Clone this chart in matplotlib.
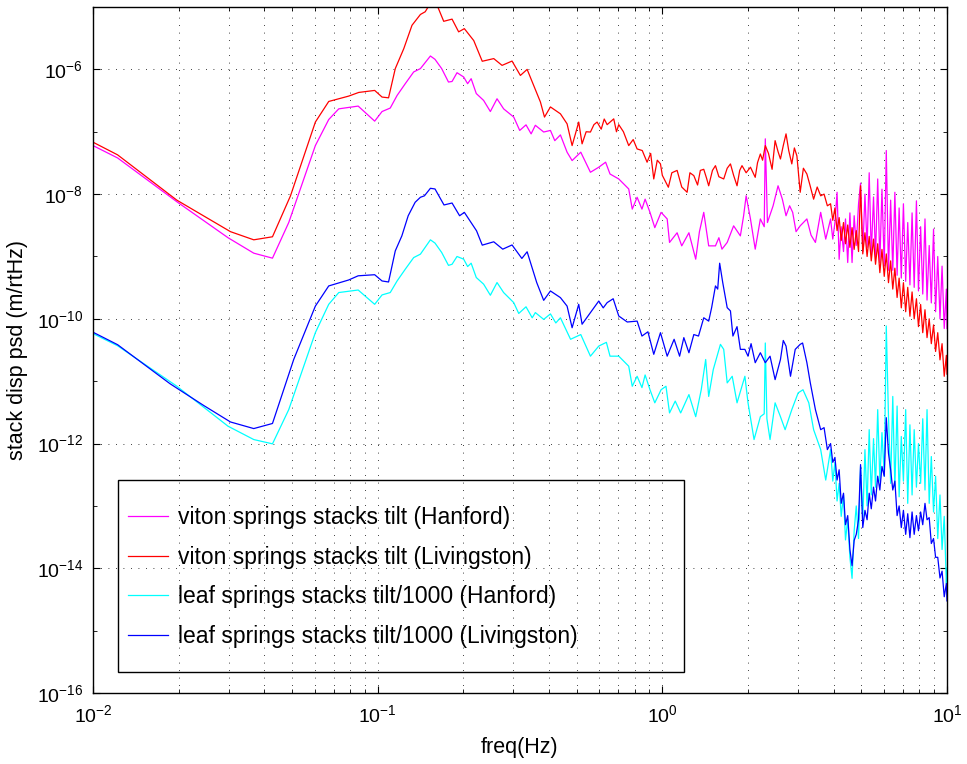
import matplotlib
matplotlib.use('Agg')
import matplotlib.pyplot as plt
from matplotlib.patches import Rectangle
from matplotlib.ticker import NullFormatter, LogFormatterMathtext

plt.rcParams['font.family'] = ['Liberation Sans', 'DejaVu Sans']
plt.rcParams['mathtext.fontset'] = 'custom'
plt.rcParams['mathtext.rm'] = 'Liberation Sans'
plt.rcParams['mathtext.default'] = 'regular'

# frequencies shared by the noisy 3.9 - 10 Hz part of every trace
dense_f = [3.9, 3.97, 4.04, 4.11, 4.18, 4.25, 4.33, 4.40, 4.48, 4.56,
           4.64, 4.72, 4.80, 4.89, 4.97, 5.06, 5.15, 5.24, 5.33, 5.42,
           5.52, 5.61, 5.71, 5.81, 5.91, 6.02, 6.12, 6.23, 6.34, 6.45,
           6.56, 6.68, 6.79, 6.91, 7.03, 7.16, 7.28, 7.41, 7.54, 7.67,
           7.81, 7.94, 8.08, 8.22, 8.37, 8.51, 8.66, 8.81, 8.97, 9.12,
           9.28, 9.45, 9.61, 9.78, 9.95, 10.0]

# viton springs, Hanford (magenta)
viton_han_f = [0.01, 0.0122, 0.0197, 0.0298, 0.0367, 0.0427, 0.0487, 0.0604, 0.0673, 0.073,
               0.0854, 0.0976, 0.1036, 0.1107, 0.117, 0.125, 0.1338, 0.1413, 0.1532, 0.159,
               0.1678, 0.1773, 0.1825, 0.19, 0.2005, 0.207, 0.213, 0.222, 0.2356, 0.2488,
               0.2626, 0.277, 0.3006, 0.3155, 0.332, 0.346, 0.358, 0.383, 0.4045, 0.419,
               0.4385, 0.4628, 0.482, 0.517, 0.559, 0.598, 0.632, 0.655, 0.703, 0.762,
               0.784, 0.8155, 0.848, 0.87, 0.905, 0.941, 0.99, 1.04, 1.06, 1.127,
               1.17, 1.24, 1.31, 1.35, 1.398, 1.455, 1.537, 1.58, 1.62, 1.69,
               1.78, 1.88, 1.93, 1.97, 2.04, 2.12, 2.21, 2.28, 2.30, 2.34,
               2.45, 2.55, 2.64, 2.72, 2.80, 2.87, 2.95, 3.05, 3.22, 3.33,
               3.45, 3.6, 3.75]
viton_han = [6.0e-8, 3.8e-8, 7.55e-9, 2.0e-9, 1.13e-9, 9.4e-10, 3.5e-9, 6.0e-8, 1.57e-7, 2.33e-7,
             2.58e-7, 1.48e-7, 2.11e-7, 2.4e-7, 3.82e-7, 5.9e-7, 9.1e-7, 1.03e-6, 1.64e-6, 1.45e-6,
             1.03e-6, 6.27e-7, 6.4e-7, 8.85e-7, 7.55e-7, 5.9e-7, 7.1e-7, 4.1e-7, 3.18e-7, 2.11e-7,
             3.38e-7, 2.33e-7, 1.72e-7, 1.05e-7, 1.29e-7, 9.25e-8, 1.27e-7, 9.9e-8, 1.05e-7, 7.2e-8,
             8.9e-8, 4.7e-8, 3.45e-8, 4.7e-8, 2.24e-8, 2.7e-8, 3.25e-8, 2.1e-8, 1.75e-8, 1.21e-8,
             5.75e-9, 8.9e-9, 5.75e-9, 8.3e-9, 5.1e-9, 2.9e-9, 5.1e-9, 4.0e-9, 1.68e-9, 2.4e-9,
             1.48e-9, 2.4e-9, 9.05e-10, 2.5e-9, 5.1e-9, 1.48e-9, 1.48e-9, 2.0e-9, 1.31e-9, 1.68e-9,
             3.1e-9, 2.14e-9, 4.5e-9, 9.4e-9, 4.0e-9, 1.31e-9, 4.0e-9, 3.0e-9, 7.7e-8, 3.5e-9,
             6.5e-9, 1.36e-8, 8.3e-9, 4.5e-9, 6.5e-9, 5.1e-9, 2.5e-9, 3.1e-9, 4.0e-9, 2.2e-9,
             1.68e-9, 5.1e-9, 1.9e-9]
viton_han_hi = [4.0e-9, 1.9e-9, 3.5e-9, 1.07e-8, 9.0e-10, 3.0e-9, 1.2e-9, 4.0e-9, 8.0e-10, 5.0e-9,
                8.0e-10, 4.5e-9, 1.5e-9, 7.0e-9, 1.5e-8, 1.2e-9, 1.0e-8, 1.4e-9, 2.2e-8, 1.1e-9,
                9.0e-9, 1.0e-9, 1.75e-8, 8.0e-10, 1.2e-8, 7.0e-10, 5.0e-8, 6.0e-10, 8.0e-9, 6.0e-10,
                1.07e-8, 5.0e-10, 6.0e-9, 4.5e-10, 7.0e-9, 4.0e-10, 3.5e-9, 3.5e-10, 5.0e-9, 3.2e-10,
                7.8e-9, 2.8e-10, 3.0e-9, 2.5e-10, 4.0e-9, 2.0e-10, 1.5e-9, 1.8e-10, 2.75e-9, 1.3e-10,
                1.0e-9, 1.0e-10, 7.0e-10, 7.0e-11, 3.0e-10, 7.0e-11]

# viton springs, Livingston (red)
viton_liv_f = [0.01, 0.0122, 0.0197, 0.0304, 0.0367, 0.0427, 0.0494, 0.0604, 0.0673, 0.0791,
               0.0858, 0.0976, 0.1036, 0.1092, 0.1153, 0.1235, 0.132, 0.1413, 0.1469, 0.153,
               0.1617, 0.1706, 0.1825, 0.1925, 0.2016, 0.2175, 0.233, 0.2557, 0.2735, 0.2965,
               0.3172, 0.335, 0.3534, 0.373, 0.3855, 0.4045, 0.4385, 0.4628, 0.482, 0.5085,
               0.5225, 0.54, 0.559, 0.575, 0.59, 0.61, 0.625, 0.64, 0.675, 0.69,
               0.703, 0.73, 0.762, 0.79, 0.8155, 0.85, 0.884, 0.91, 0.933, 0.96,
               0.985, 1.0, 1.05, 1.08, 1.127, 1.17, 1.222, 1.25, 1.29, 1.33,
               1.36, 1.398, 1.43, 1.455, 1.50, 1.537, 1.58, 1.643, 1.69, 1.735,
               1.78, 1.83, 1.87, 1.905, 1.97, 2.04, 2.12, 2.16, 2.21, 2.25,
               2.30, 2.36, 2.43, 2.49, 2.55, 2.60, 2.66, 2.72, 2.78, 2.85,
               2.91, 2.97, 3.05, 3.13, 3.22, 3.30, 3.40, 3.50, 3.60, 3.70,
               3.80]
viton_liv = [6.8e-8, 4.26e-8, 8.0e-9, 2.5e-9, 1.85e-9, 2.07e-9, 9.4e-9, 1.43e-7, 3.06e-7, 3.73e-7,
             4.27e-7, 4.6e-7, 3.6e-7, 3.5e-7, 1.03e-6, 2.15e-6, 5.1e-6, 7.6e-6, 8.4e-6, 1.14e-5,
             1.07e-5, 5.9e-6, 6.4e-6, 4.0e-6, 4.5e-6, 2.9e-6, 1.35e-6, 1.49e-6, 1.16e-6, 1.36e-6,
             8.0e-7, 1.0e-6, 5.5e-7, 3.0e-7, 1.72e-7, 2.5e-7, 1.94e-7, 1.34e-7, 6.0e-8, 1.43e-7,
             6.4e-8, 1.0e-7, 9.9e-8, 1.3e-7, 1.43e-7, 1.1e-7, 1.6e-7, 1.3e-7, 1.61e-7, 1.0e-7,
             1.3e-7, 1.0e-7, 6.0e-8, 7.5e-8, 5.3e-8, 5.0e-8, 3.25e-8, 4.5e-8, 1.75e-8, 3.5e-8,
             3.05e-8, 2.0e-8, 1.29e-8, 2.2e-8, 2.4e-8, 1.3e-8, 1.07e-8, 2.2e-8, 1.98e-8, 1.4e-8,
             2.4e-8, 2.5e-8, 1.8e-8, 1.36e-8, 2.4e-8, 2.86e-8, 1.9e-8, 1.75e-8, 2.6e-8, 3.05e-8,
             2.0e-8, 1.36e-8, 2.4e-8, 2.86e-8, 2.2e-8, 2.7e-8, 1.86e-8, 3.2e-8, 4.4e-8, 3.5e-8,
             6.0e-8, 4.5e-8, 2.5e-8, 7.2e-8, 4.8e-8, 3.66e-8, 6.0e-8, 9.25e-8, 5.0e-8, 3.05e-8,
             5.5e-8, 4.1e-8, 1.07e-8, 2.6e-8, 2.1e-8, 1.4e-8, 8.3e-9, 1.3e-8, 9.4e-9, 1.0e-8,
             6.5e-9]
viton_liv_hi = [7.0e-9, 3.8e-9, 6.0e-9, 2.6e-9, 4.2e-9, 1.8e-9, 3.5e-9, 1.6e-9, 3.2e-9, 1.4e-9,
                2.9e-9, 1.3e-9, 2.6e-9, 1.2e-9, 1.36e-8, 1.1e-9, 2.4e-9, 1.0e-9, 2.1e-9, 8.5e-10,
                1.9e-9, 7.5e-10, 1.6e-9, 5.5e-10, 1.3e-9, 4.8e-10, 1.1e-9, 3.8e-10, 8.5e-10, 3.0e-10,
                6.5e-10, 2.2e-10, 4.5e-10, 1.5e-10, 3.8e-10, 1.3e-10, 3.2e-10, 1.1e-10, 2.7e-10, 1.0e-10,
                2.1e-10, 7.5e-11, 1.7e-10, 6.0e-11, 1.4e-10, 5.0e-11, 1.0e-10, 4.0e-11, 8.0e-11, 3.0e-11,
                6.0e-11, 2.2e-11, 4.0e-11, 1.2e-11, 2.6e-11, 1.3e-11]

# leaf springs /1000, Hanford (cyan)
leaf_han_f = [0.01, 0.0122, 0.0197, 0.0298, 0.0367, 0.0427, 0.0487, 0.0604, 0.0673, 0.073,
              0.0854, 0.0976, 0.1036, 0.1107, 0.117, 0.125, 0.1338, 0.1413, 0.1532, 0.159,
              0.1678, 0.1773, 0.1825, 0.19, 0.2005, 0.207, 0.213, 0.222, 0.2356, 0.2488,
              0.2626, 0.277, 0.3006, 0.313, 0.332, 0.349, 0.358, 0.383, 0.4045, 0.4225,
              0.4385, 0.476, 0.517, 0.559, 0.598, 0.636, 0.655, 0.703, 0.762, 0.784,
              0.8155, 0.848, 0.87, 0.905, 0.941, 0.99, 1.03, 1.06, 1.11, 1.16,
              1.24, 1.31, 1.37, 1.42, 1.455, 1.51, 1.6, 1.643, 1.69, 1.76,
              1.83, 1.95, 2.0, 2.1, 2.21, 2.28, 2.30, 2.33, 2.39, 2.49,
              2.6, 2.7, 2.85, 3.0, 3.12, 3.27, 3.4, 3.6, 3.75]
leaf_han = [5.8e-11, 3.7e-11, 8.3e-12, 1.9e-12, 1.16e-12, 9.9e-13, 3.5e-12, 6.0e-11, 1.71e-10, 2.64e-10,
            2.9e-10, 1.71e-10, 2.42e-10, 2.64e-10, 4.05e-10, 6.25e-10, 9.6e-10, 1.09e-9, 1.85e-9, 1.64e-9,
            1.16e-9, 7.2e-10, 7.5e-10, 1.0e-9, 9.05e-10, 6.9e-10, 7.8e-10, 4.6e-10, 3.6e-10, 2.39e-10,
            3.82e-10, 2.64e-10, 1.82e-10, 1.22e-10, 1.56e-10, 1.04e-10, 1.26e-10, 9.8e-11, 1.2e-10, 8.6e-11,
            1.04e-10, 4.7e-11, 5.6e-11, 2.52e-11, 3.66e-11, 4.2e-11, 2.52e-11, 2.52e-11, 1.74e-11, 8.3e-12,
            1.2e-11, 7.9e-12, 1.26e-11, 7.3e-12, 4.5e-12, 7.3e-12, 8.3e-12, 3.1e-12, 4.8e-12, 3.1e-12,
            6.1e-12, 2.7e-12, 7.3e-12, 2.23e-11, 5.7e-12, 1.54e-11, 3.9e-11, 3.24e-11, 9.4e-12, 1.2e-11,
            4.5e-12, 1.2e-11, 4.5e-12, 1.16e-12, 2.7e-12, 3.0e-12, 4.1e-11, 2.5e-12, 1.16e-12, 4.5e-12,
            2.7e-12, 1.67e-12, 3.5e-12, 6.5e-12, 7.3e-12, 4.5e-12, 1.67e-12, 8.0e-13, 2.6e-13]
leaf_han_hi = [8.0e-13, 2.5e-13, 5.0e-13, 1.2e-13, 2.3e-13, 6.8e-14, 1.5e-13, 2.85e-14, 6.0e-14, 1.5e-14,
               6.9e-15, 4.0e-14, 1.0e-13, 3.0e-14, 4.3e-13, 6.0e-14, 8.0e-13, 1.0e-13, 1.67e-12, 1.5e-13,
               1.2e-12, 2.0e-13, 3.5e-12, 2.5e-13, 1.5e-12, 3.0e-13, 7.7e-11, 2.7e-12, 2.3e-13, 5.7e-12,
               2.0e-13, 4.0e-12, 1.4e-13, 1.3e-12, 2.5e-13, 3.5e-12, 1.1e-13, 2.0e-12, 1.5e-13, 1.67e-12,
               2.0e-13, 1.0e-12, 2.3e-13, 2.5e-12, 1.8e-13, 3.5e-12, 1.1e-13, 6.2e-13, 8.0e-14, 3.0e-13,
               3.0e-14, 1.5e-13, 2.0e-14, 6.8e-14, 5.7e-15, 1.0e-14]

# leaf springs /1000, Livingston (blue)
leaf_liv_f = [0.01, 0.0122, 0.01865, 0.0245, 0.0304, 0.0367, 0.0427, 0.0507, 0.0604, 0.0673,
              0.0791, 0.0854, 0.0976, 0.1036, 0.1092, 0.1153, 0.1216, 0.128, 0.1354, 0.1413,
              0.146, 0.1532, 0.159, 0.171, 0.1825, 0.194, 0.2016, 0.2225, 0.233, 0.2557,
              0.275, 0.2965, 0.321, 0.335, 0.362, 0.383, 0.4045, 0.4385, 0.4628, 0.482,
              0.5085, 0.5225, 0.559, 0.598, 0.62, 0.64, 0.672, 0.703, 0.753, 0.8155,
              0.848, 0.89, 0.933, 0.985, 1.04, 1.1, 1.15, 1.19, 1.24, 1.29,
              1.34, 1.398, 1.455, 1.49, 1.537, 1.565, 1.59, 1.63, 1.69, 1.735,
              1.77, 1.83, 1.88, 1.95, 2.0, 2.05, 2.12, 2.21, 2.3, 2.39,
              2.49, 2.6, 2.66, 2.72, 2.82, 2.93, 3.05, 3.11, 3.22, 3.31,
              3.45, 3.6, 3.7, 3.8]
leaf_liv = [6.1e-11, 3.85e-11, 9.1e-12, 4.07e-12, 2.22e-12, 1.74e-12, 2.1e-12, 2.23e-11, 1.6e-10, 3.37e-10,
            4.2e-10, 4.9e-10, 5.1e-10, 4.05e-10, 3.9e-10, 1.23e-9, 2.14e-9, 4.5e-9, 7.4e-9, 8.9e-9,
            9.4e-9, 1.24e-8, 1.21e-8, 6.7e-9, 7.2e-9, 4.5e-9, 5.1e-9, 2.58e-9, 1.52e-9, 1.72e-9,
            1.31e-9, 1.53e-9, 9.3e-10, 1.19e-9, 3.82e-10, 1.98e-10, 2.8e-10, 2.19e-10, 1.6e-10, 7.2e-11,
            1.71e-10, 8.2e-11, 1.26e-10, 1.93e-10, 1.5e-10, 1.82e-10, 2.1e-10, 1.11e-10, 8.9e-11, 9.2e-11,
            5.3e-11, 6.2e-11, 2.7e-11, 6.0e-11, 2.52e-11, 4.7e-11, 2.52e-11, 5.0e-11, 2.86e-11, 5.6e-11,
            5.3e-11, 1.04e-10, 9.2e-11, 1.51e-10, 3.37e-10, 3.0e-10, 7.8e-10, 3.82e-10, 1.51e-10, 1.34e-10,
            5.3e-11, 7.5e-11, 3.24e-11, 3.24e-11, 2.52e-11, 4.0e-11, 1.98e-11, 2.86e-11, 1.98e-11, 2.52e-11,
            1.06e-11, 2.23e-11, 4.5e-11, 3.66e-11, 1.2e-11, 3.24e-11, 3.9e-11, 4.1e-11, 1.98e-11, 9.4e-12,
            3.5e-12, 1.67e-12, 1.8e-12, 8.0e-13]
leaf_liv_hi = [1.0e-12, 5.0e-13, 6.0e-13, 2.6e-13, 3.8e-13, 1.1e-13, 1.6e-13, 5.0e-14, 7.0e-14, 2.0e-14,
               1.1e-14, 2.8e-14, 3.5e-14, 6.0e-14, 4.6e-13, 4.5e-14, 8.5e-14, 6.0e-14, 1.6e-13, 9.0e-14,
               2.0e-13, 1.2e-13, 3.0e-13, 1.8e-13, 4.3e-13, 3.0e-13, 2.6e-12, 7.0e-13, 3.8e-13, 1.8e-13,
               2.5e-13, 7.0e-14, 1.0e-13, 4.5e-14, 8.5e-14, 3.5e-14, 7.5e-14, 3.1e-14, 8.0e-14, 3.5e-14,
               7.0e-14, 4.0e-14, 8.0e-14, 5.0e-14, 1.1e-13, 6.0e-14, 6.5e-14, 2.5e-14, 3.0e-14, 1.5e-14,
               1.5e-14, 7.0e-15, 9.0e-15, 3.5e-15, 5.7e-15, 3.0e-15]

labels = ['viton springs stacks tilt (Hanford)',
          'viton springs stacks tilt (Livingston)',
          'leaf springs stacks tilt/1000 (Hanford)',
          'leaf springs stacks tilt/1000 (Livingston)']
colors = ['#ff00ff', '#ff0000', '#00ffff', '#0000ff']

fig = plt.figure(figsize=(9.67, 7.64), dpi=100)
ax = fig.add_axes([0.0962, 0.0929, 0.8831, 0.8979])

series = [(viton_han_f + dense_f, viton_han + viton_han_hi),
          (viton_liv_f + dense_f, viton_liv + viton_liv_hi),
          (leaf_han_f + dense_f, leaf_han + leaf_han_hi),
          (leaf_liv_f + dense_f, leaf_liv + leaf_liv_hi)]
for (f, v), c, lab in zip(series, colors, labels):
    ax.loglog(f, v, color=c, lw=0.9, label=lab)

ax.set_xlim(1e-2, 1e1)
ax.set_ylim(1e-16, 1e-5)

# ticks like matlab: labels every 2 decades on y, small ticks every decade
ax.set_xticks([1e-2, 1e-1, 1e0, 1e1])
ax.set_xticks([m * 10.0**e for e in (-2, -1, 0) for m in range(2, 10)], minor=True)
ax.set_yticks([10.0**e for e in range(-16, -5, 2)])
ax.set_yticks([10.0**e for e in range(-15, -4, 2)], minor=True)
ax.xaxis.set_major_formatter(LogFormatterMathtext())
ax.yaxis.set_major_formatter(LogFormatterMathtext())
ax.xaxis.set_minor_formatter(NullFormatter())
ax.yaxis.set_minor_formatter(NullFormatter())
ax.tick_params(which='both', direction='in', top=True, right=True, labelsize=14)
ax.tick_params(which='major', length=5, width=0.8)
ax.tick_params(which='minor', length=3, width=0.6)
ax.tick_params(axis='x', pad=8)
ax.tick_params(axis='y', pad=7)

dots = (0, (1, 8))
ax.grid(True, which='major', axis='both', linestyle=dots, color='k', lw=0.6)
ax.grid(True, which='minor', axis='x', linestyle=dots, color='k', lw=0.6)

for s in ax.spines.values():
    s.set_linewidth(1.0)

ax.set_xlabel('freq(Hz)', fontsize=15.5, labelpad=8)
ax.set_ylabel('stack disp psd (m/rtHz)', fontsize=15.5, labelpad=6)

# legend box is see-through in the original, grid shows inside it
ax.add_patch(Rectangle((0.0293, 0.0306), 0.6628, 0.2799, transform=ax.transAxes,
                       fill=False, edgecolor='k', lw=1.0, zorder=4))
ax.legend(loc='center left', bbox_to_anchor=(0.041, 0.169), frameon=False,
          fontsize=16.5, handlelength=1.75, handletextpad=0.45, labelspacing=0.72,
          borderpad=0, borderaxespad=0)

fig.savefig('out.png', dpi=100)
